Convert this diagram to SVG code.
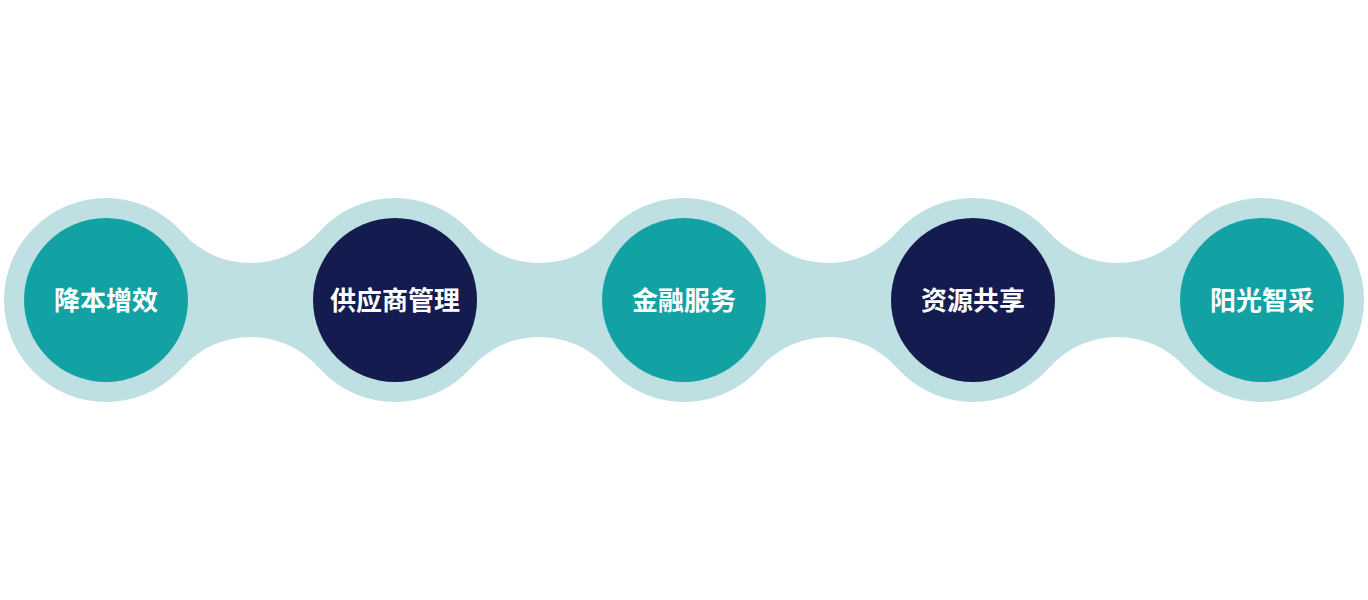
<svg xmlns="http://www.w3.org/2000/svg" width="1368" height="600" viewBox="0 0 1368 600">
<style>
.ring{fill:#BEE0E3}
.link{fill:#BEE0E3}
.teal{fill:#12A2A3}
.navy{fill:#131B4F}
.lbl{fill:#FFFFFF;font-family:"Noto Sans CJK SC","Noto Sans",sans-serif;font-weight:bold;font-size:26px;text-anchor:middle}
</style>
<rect width="1368" height="600" fill="#FFFFFF"/>
<g id="connectors">
<path class="link" d="M182.6,232.7 A91,91 0 0 0 318.4,232.7 L318.4,367.3 A91,91 0 0 0 182.6,367.3 Z"/>
<path class="link" d="M471.6,232.7 A91,91 0 0 0 607.4,232.7 L607.4,367.3 A91,91 0 0 0 471.6,367.3 Z"/>
<path class="link" d="M760.6,232.7 A91,91 0 0 0 896.4,232.7 L896.4,367.3 A91,91 0 0 0 760.6,367.3 Z"/>
<path class="link" d="M1049.6,232.7 A91,91 0 0 0 1185.4,232.7 L1185.4,367.3 A91,91 0 0 0 1049.6,367.3 Z"/>
</g>
<g id="node1">
<circle class="ring" cx="106" cy="300" r="102"/>
<circle class="teal" cx="106" cy="300" r="82"/>
<text class="lbl" x="106" y="310">降本增效</text>
</g>
<g id="node2">
<circle class="ring" cx="395" cy="300" r="102"/>
<circle class="navy" cx="395" cy="300" r="82"/>
<text class="lbl" x="395" y="310">供应商管理</text>
</g>
<g id="node3">
<circle class="ring" cx="684" cy="300" r="102"/>
<circle class="teal" cx="684" cy="300" r="82"/>
<text class="lbl" x="684" y="310">金融服务</text>
</g>
<g id="node4">
<circle class="ring" cx="973" cy="300" r="102"/>
<circle class="navy" cx="973" cy="300" r="82"/>
<text class="lbl" x="973" y="310">资源共享</text>
</g>
<g id="node5">
<circle class="ring" cx="1262" cy="300" r="102"/>
<circle class="teal" cx="1262" cy="300" r="82"/>
<text class="lbl" x="1262" y="310">阳光智采</text>
</g>
</svg>
